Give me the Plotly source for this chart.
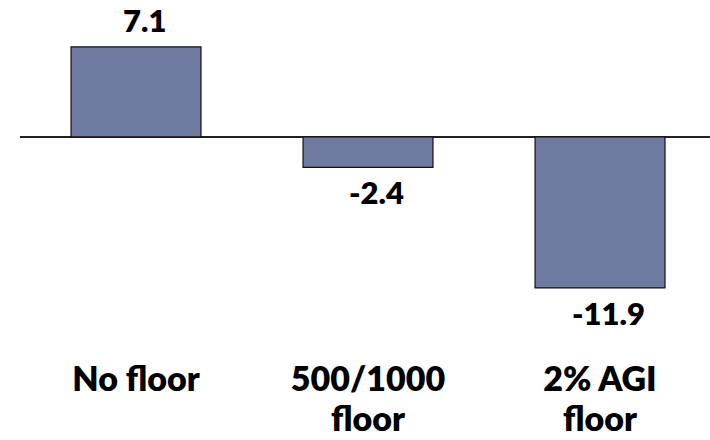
import plotly.graph_objects as go

categories = ["No floor", "500/1000<br>floor", "2% AGI<br>floor"]
values = [7.1, -2.4, -11.9]
value_labels = ["7.1", "-2.4", "-11.9"]

bar_color = "#6f7aa1"
font_family = "Lato, 'Open Sans', sans-serif"

fig = go.Figure(
    go.Bar(
        x=categories,
        y=values,
        width=0.56,
        marker=dict(color=bar_color, line=dict(color="#111111", width=1.2)),
        hoverinfo="skip",
    )
)

# value labels above positive bars, below negative bars
for cat, v, lab in zip(categories, values, value_labels):
    fig.add_annotation(
        x=cat, y=v, text=lab, showarrow=False,
        xref="x", yref="y",
        yanchor="bottom" if v >= 0 else "top",
        yshift=6 if v >= 0 else -4,
        xshift=8,
        font=dict(family=font_family, size=31, color="#000000", weight=800),
    )

# larger glyphs inside a tighter line pitch for the category labels
tick_text = [
    "<br>".join(f"<span style='font-size:34px'>{part}</span>" for part in c.split("<br>"))
    for c in categories
]

fig.update_layout(
    width=710, height=440,
    margin=dict(l=20, r=0, t=0, b=83),
    plot_bgcolor="white", paper_bgcolor="white",
    showlegend=False,
    xaxis=dict(
        range=[-0.5, 2.474], showgrid=False, showline=False, ticks="",
        automargin=False,
        tickvals=categories, ticktext=tick_text,
        tickfont=dict(family=font_family, size=31, color="#000000", weight=800),
        ticklabelstandoff=2,
    ),
    yaxis=dict(
        range=[-17.35, 10.80], showgrid=False, showticklabels=False,
        automargin=False,
        zeroline=True, zerolinecolor="#222222", zerolinewidth=1.5,
        showline=False, ticks="",
    ),
)

fig.write_html("out.html")
